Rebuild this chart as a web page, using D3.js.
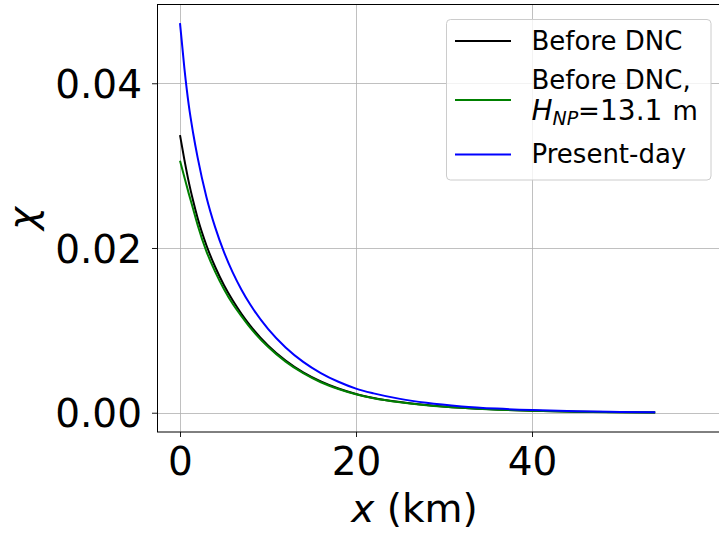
<!DOCTYPE html>
<html>
<head>
<meta charset="utf-8">
<script src="https://cdn.jsdelivr.net/npm/d3@7"></script>
<style>
  html, body { margin: 0; padding: 0; background: #fff; }
  svg { display: block; font-family: "DejaVu Sans", sans-serif; }
</style>
</head>
<body>
<svg id="chart" width="719" height="537"></svg>
<script>
// Distance from the coast (km)
const xKm = [0, 0.5, 1, 1.5, 2, 3, 4, 5, 6, 7, 8, 10, 12, 14, 16, 18, 20, 22, 25, 28, 32, 36, 40, 45, 50, 54];

// chi profiles along x
const beforeDNC = [0.0337, 0.0307, 0.0280, 0.0257, 0.02364, 0.02033, 0.01769, 0.01548, 0.01362, 0.01199, 0.01055, 0.00817, 0.00633, 0.0049, 0.0038, 0.00294, 0.00228, 0.0018, 0.0013, 0.00094, 0.0006, 0.00038, 0.00024, 0.00013, 0.00007, 0.00004];
const beforeDNCHnp = [0.0306, 0.0286, 0.0266, 0.0247, 0.0228, 0.0196, 0.0171, 0.0150, 0.0132, 0.0117, 0.0103, 0.0080, 0.0062, 0.0048, 0.0037, 0.00288, 0.00224, 0.00177, 0.00128, 0.00092, 0.00059, 0.00037, 0.00023, 0.00012, 0.00006, 0.00004];
const presentDay = [0.0473, 0.0418, 0.0373, 0.0339, 0.0310, 0.0262, 0.0225, 0.0195, 0.0170, 0.0149, 0.0131, 0.01018, 0.00793, 0.00618, 0.00482, 0.00376, 0.00293, 0.00235, 0.00168, 0.0012, 0.00077, 0.0005, 0.00032, 0.00018, 0.0001, 0.00006];

const seriesNames = ["Before DNC", "Before DNC,", "Present-day"];
const seriesColors = ["#000000", "#008000", "#0000ff"];

const xTicks = [0, 20, 40];
const yTicks = [0.00, 0.02, 0.04];

const svg = d3.select("#chart");
const plot = { left: 157, top: 5, right: 722, bottom: 432 };

const x = d3.scaleLinear().domain([-2.614, 61.59]).range([plot.left, plot.right]);
const y = d3.scaleLinear().domain([-0.00234, 0.0495]).range([plot.bottom, plot.top]);

// grid
const grid = svg.append("g").attr("stroke", "#b0b0b0").attr("stroke-width", 0.8);
grid.selectAll(".gx").data(xTicks).join("line")
  .attr("x1", d => Math.round(x(d)) + 0.5).attr("x2", d => Math.round(x(d)) + 0.5)
  .attr("y1", plot.top).attr("y2", plot.bottom);
grid.selectAll(".gy").data(yTicks).join("line")
  .attr("y1", d => Math.round(y(d)) + 0.5).attr("y2", d => Math.round(y(d)) + 0.5)
  .attr("x1", plot.left).attr("x2", plot.right);

// curves
const series = [beforeDNC, beforeDNCHnp, presentDay];
const line = d3.line()
  .x(d => x(d[0]))
  .y(d => y(d[1]))
  .curve(d3.curveMonotoneX);
const clipId = "plotclip";
svg.append("clipPath").attr("id", clipId).append("rect")
  .attr("x", plot.left).attr("y", plot.top)
  .attr("width", plot.right - plot.left).attr("height", plot.bottom - plot.top);
svg.append("g").attr("clip-path", `url(#${clipId})`)
  .selectAll("path").data(series).join("path")
  .attr("d", s => line(xKm.map((k, i) => [k, s[i]])))
  .attr("fill", "none")
  .attr("stroke", (s, i) => seriesColors[i])
  .attr("stroke-width", 2)
  .attr("stroke-linejoin", "round")
  .attr("stroke-linecap", "butt");

// axes
const xAxis = d3.axisBottom(x).tickValues(xTicks).tickFormat(d3.format("d")).tickSize(5).tickPadding(10);
const yAxis = d3.axisLeft(y).tickValues(yTicks).tickFormat(d3.format(".2f")).tickSize(5).tickPadding(10);

const gx = svg.append("g").attr("transform", `translate(0,${plot.bottom})`).call(xAxis);
const gy = svg.append("g").attr("transform", `translate(${plot.left},0)`).call(yAxis);
[gx, gy].forEach(g => {
  g.select(".domain").remove();
  g.selectAll(".tick line").attr("stroke", "#000").attr("stroke-width", 0.9);
  g.selectAll(".tick text").attr("fill", "#000").attr("font-size", 39)
    .attr("font-family", "DejaVu Sans");
});
gx.selectAll(".tick text").attr("dy", null).attr("y", 43);
gy.selectAll(".tick text").attr("dy", "0.36em");

// spines
svg.append("rect")
  .attr("x", plot.left + 0.5).attr("y", plot.top - 0.5)
  .attr("width", plot.right - plot.left).attr("height", plot.bottom - plot.top + 0.5)
  .attr("fill", "none").attr("stroke", "#000").attr("stroke-width", 1);

// axis labels
const xl = svg.append("text")
  .attr("x", 414.5).attr("y", 522)
  .attr("text-anchor", "middle").attr("font-size", 39).attr("fill", "#000");
xl.append("tspan").attr("font-style", "italic").text("x");
xl.append("tspan").text(" (km)");

svg.append("text")
  .attr("transform", "translate(36,218.5) rotate(-90)")
  .attr("text-anchor", "middle").attr("font-size", 39).attr("font-style", "italic")
  .attr("fill", "#000").text("χ");

// legend
const lg = svg.append("g");
lg.append("rect")
  .attr("x", 446.5).attr("y", 19.5).attr("width", 264.5).attr("height", 160.5)
  .attr("rx", 4).attr("fill", "#fff").attr("fill-opacity", 0.8)
  .attr("stroke", "#cccccc").attr("stroke-width", 1);

const handleY = [41, 100, 154.5];
lg.selectAll(".h").data(seriesColors).join("line")
  .attr("x1", 455).attr("x2", 511)
  .attr("y1", (c, i) => handleY[i]).attr("y2", (c, i) => handleY[i])
  .attr("stroke", c => c).attr("stroke-width", 2);

const legendFont = 26;
lg.append("text").attr("x", 531.5).attr("y", 50).attr("font-size", legendFont).text(seriesNames[0]);
lg.append("text").attr("x", 531.5).attr("y", 88.5).attr("font-size", legendFont).text(seriesNames[1]);
const hnp = lg.append("text").attr("x", 531.5).attr("y", 120).attr("font-size", 28);
hnp.append("tspan").attr("font-style", "italic").text("H");
hnp.append("tspan").attr("font-style", "italic").attr("font-size", 19).attr("dy", 5).text("NP");
hnp.append("tspan").attr("dy", -5).attr("x", 578).attr("font-size", legendFont).text("=");
hnp.append("tspan").attr("x", 600).text("13.1");
hnp.append("tspan").attr("x", 672.5).attr("font-size", legendFont).text("m");
lg.append("text").attr("x", 531.5).attr("y", 163).attr("font-size", legendFont).text(seriesNames[2]);
</script>
</body>
</html>
